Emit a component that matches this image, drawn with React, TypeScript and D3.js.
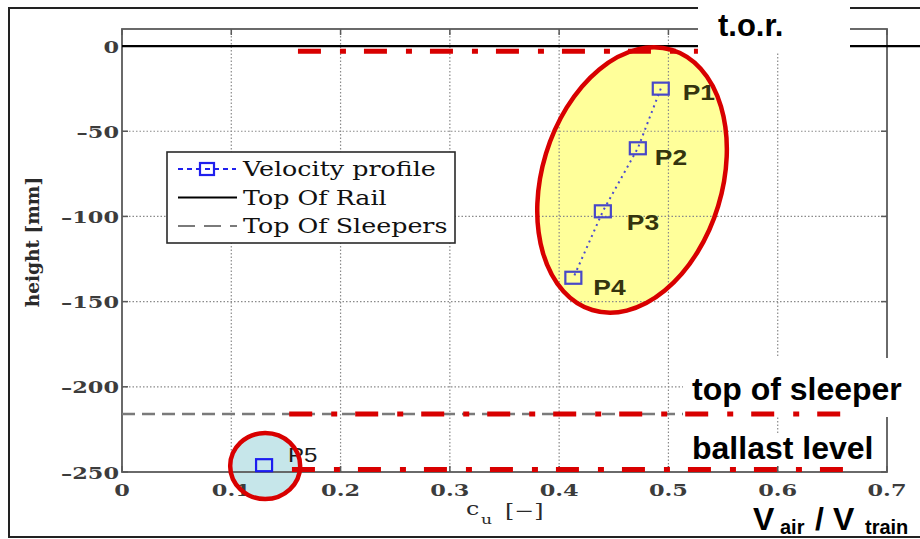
import React, { useEffect, useRef } from 'react';
import * as d3 from 'd3';

// axis ticks
const xTicks = [0, 0.1, 0.2, 0.3, 0.4, 0.5, 0.6, 0.7];
const yTicks = [-250, -200, -150, -100, -50, 0];

// velocity profile measurement points
const pointLabels = ['P1', 'P2', 'P3', 'P4', 'P5'];
const pointCu = [0.493, 0.472, 0.44, 0.413, 0.13];
const pointHeight = [-25, -60, -97, -136, -246];
const labelOffsets = [[22, 11], [17, 17], [24, 19], [20, 17], [24, -3]];

// reference levels (mm)
const topOfRail = 0;
const topOfSleepers = -216;

const legendLabels = ['Velocity profile', 'Top Of Rail', 'Top Of Sleepers'];

// red dash-dot annotation levels
const levelHeights = [-3, -216, -248.5];
const levelStart = [0.161, 0.153, 0.1555];
const levelEnd = [0.527, 0.658, 0.66];

const W = 920;
const H = 539;
const SERIF = '"DejaVu Serif", serif';
const SANS = '"Liberation Sans", Arial, sans-serif';
const RED = '#d80000';

export default function App() {
  const svgRef = useRef<SVGSVGElement>(null);

  useEffect(() => {
    if (!svgRef.current) return;
    const svg = d3.select(svgRef.current);
    svg.selectAll('*').remove();

    const x = d3.scaleLinear().domain([0, 0.7]).range([122, 887]);
    const y = d3.scaleLinear().domain([-250, 10]).range([472, 29]);
    const [x0, x1] = x.range();
    const [y0, y1] = y.range();

    svg.append('rect').attr('width', W).attr('height', H).attr('fill', '#fff');

    // outer frame
    svg.append('rect')
      .attr('x', 9).attr('y', 8)
      .attr('width', W + 10).attr('height', 529)
      .attr('fill', 'none').attr('stroke', '#222').attr('stroke-width', 2);

    // highlight fills (under grid)
    const hiCx = x(0.4667);
    const hiCy = y(-78.6);
    const hiTf = `translate(${hiCx},${hiCy}) rotate(17)`;
    svg.append('ellipse')
      .attr('transform', hiTf)
      .attr('rx', 90).attr('ry', 136)
      .attr('fill', '#ffff88').attr('fill-opacity', 0.85);
    const p5Cx = x(0.131);
    const p5Cy = y(-246.5);
    svg.append('ellipse')
      .attr('cx', p5Cx).attr('cy', p5Cy).attr('rx', 35).attr('ry', 33)
      .attr('fill', '#c6e6ea');

    // grid
    const grid = svg.append('g')
      .attr('stroke', '#8a8a8a').attr('stroke-width', 1.2).attr('stroke-dasharray', '1.5,2');
    xTicks.slice(1, -1).forEach((t) => {
      grid.append('line').attr('x1', x(t)).attr('x2', x(t)).attr('y1', y1).attr('y2', y0);
    });
    yTicks.slice(1).forEach((t) => {
      grid.append('line').attr('x1', x0).attr('x2', x1).attr('y1', y(t)).attr('y2', y(t));
    });

    // axes box + inward ticks
    svg.append('rect')
      .attr('x', x0).attr('y', y1).attr('width', x1 - x0).attr('height', y0 - y1)
      .attr('fill', 'none').attr('stroke', '#5a5a5a').attr('stroke-width', 1.8);
    const ticks = svg.append('g').attr('stroke', '#5a5a5a').attr('stroke-width', 1.5);
    xTicks.forEach((t) => {
      ticks.append('line').attr('x1', x(t)).attr('x2', x(t)).attr('y1', y0).attr('y2', y0 - 6);
      ticks.append('line').attr('x1', x(t)).attr('x2', x(t)).attr('y1', y1).attr('y2', y1 + 6);
    });
    yTicks.forEach((t) => {
      ticks.append('line').attr('x1', x0).attr('x2', x0 + 6).attr('y1', y(t)).attr('y2', y(t));
      ticks.append('line').attr('x1', x1).attr('x2', x1 - 6).attr('y1', y(t)).attr('y2', y(t));
    });

    const serifText = (px: number, py: number, str: string, anchor: string, size: number) =>
      svg.append('text')
        .attr('transform', `translate(${px},${py}) scale(1.32,1)`)
        .attr('text-anchor', anchor)
        .attr('font-family', SERIF)
        .attr('font-size', size)
        .attr('fill', '#3c3c3c')
        .attr('font-weight', 'bold')
        .text(str);

    xTicks.forEach((t) => {
      serifText(x(t), 496, t === 0 ? '0' : d3.format('.1f')(t), 'middle', 17);
    });
    yTicks.forEach((t) => {
      serifText(119, y(t) + 6.5, t < 0 ? '–' + Math.abs(t) : String(t), 'end', 17);
    });

    // axis labels
    svg.append('text')
      .attr('transform', 'translate(39,242) rotate(-90)')
      .attr('text-anchor', 'middle')
      .attr('font-family', SERIF).attr('font-size', 18.5).attr('font-weight', 'bold')
      .attr('fill', '#2a2a2a')
      .text('height [mm]');
    serifText(466, 515, 'c', 'start', 18).attr('font-weight', 'normal').attr('fill', '#2a2a2a');
    serifText(481, 524, 'u', 'start', 13).attr('font-weight', 'normal').attr('fill', '#2a2a2a');
    serifText(505, 517, '[−]', 'start', 18).attr('font-weight', 'normal').attr('fill', '#2a2a2a');

    // reference lines
    svg.append('line')
      .attr('x1', x0).attr('x2', x1).attr('y1', y(topOfSleepers)).attr('y2', y(topOfSleepers))
      .attr('stroke', '#7a7a7a').attr('stroke-width', 2.5).attr('stroke-dasharray', '13,7');
    svg.append('line')
      .attr('x1', x0).attr('x2', W).attr('y1', y(topOfRail)).attr('y2', y(topOfRail))
      .attr('stroke', '#000').attr('stroke-width', 2.2);

    // velocity profile
    const line = d3.line<number>()
      .x((_, i) => x(pointCu[i]))
      .y((_, i) => y(pointHeight[i]));
    svg.append('path')
      .attr('d', line(pointCu.slice(0, 4)))
      .attr('fill', 'none').attr('stroke', '#4a4ad0').attr('stroke-width', 2)
      .attr('stroke-dasharray', '2,4');

    pointCu.forEach((c, i) => {
      const px = x(c);
      const py = y(pointHeight[i]);
      svg.append('rect')
        .attr('x', px - 8).attr('y', py - 6).attr('width', 16).attr('height', 12)
        .attr('fill', 'none')
        .attr('stroke', i === 4 ? '#1c1cf0' : '#4848c8')
        .attr('stroke-width', 2.2);
      const [dx, dy] = labelOffsets[i];
      svg.append('text')
        .attr('transform', `translate(${px + dx},${py + dy}) scale(1.2,1)`)
        .attr('font-family', SANS)
        .attr('font-size', i === 4 ? 20 : 22)
        .attr('font-weight', i === 4 ? 'normal' : 'bold')
        .attr('fill', i === 4 ? '#1a1a1a' : '#34340e')
        .text(pointLabels[i]);
    });

    // highlight outlines
    svg.append('ellipse')
      .attr('transform', hiTf)
      .attr('rx', 90).attr('ry', 136)
      .attr('fill', 'none').attr('stroke', RED).attr('stroke-width', 4.5);
    svg.append('ellipse')
      .attr('cx', p5Cx).attr('cy', p5Cy).attr('rx', 35).attr('ry', 33)
      .attr('fill', 'none').attr('stroke', RED).attr('stroke-width', 4.5);

    // legend
    const lg = svg.append('g').attr('transform', 'translate(167,152)');
    lg.append('rect').attr('width', 288).attr('height', 91)
      .attr('fill', '#fff').attr('stroke', '#2a2a2a').attr('stroke-width', 1.6);
    legendLabels.forEach((lab, i) => {
      const ry = 17 + i * 28.5;
      if (i === 0) {
        lg.append('line').attr('x1', 11).attr('x2', 69).attr('y1', ry).attr('y2', ry)
          .attr('stroke', '#2020ee').attr('stroke-width', 2.2).attr('stroke-dasharray', '5,4');
        lg.append('rect').attr('x', 33).attr('y', ry - 6).attr('width', 14).attr('height', 12)
          .attr('fill', 'none').attr('stroke', '#2020ee').attr('stroke-width', 2.2);
      } else if (i === 1) {
        lg.append('line').attr('x1', 11).attr('x2', 70).attr('y1', ry).attr('y2', ry)
          .attr('stroke', '#000').attr('stroke-width', 2.2);
      } else {
        lg.append('line').attr('x1', 11).attr('x2', 70).attr('y1', ry).attr('y2', ry)
          .attr('stroke', '#7a7a7a').attr('stroke-width', 2).attr('stroke-dasharray', '17,9');
      }
      lg.append('text')
        .attr('transform', `translate(76,${ry + 7}) scale(1.3,1)`)
        .attr('font-family', SERIF).attr('font-size', 19.5).attr('fill', '#111')
        .text(lab);
    });

    // white label boxes
    const box = (bx: number, by: number, bw: number, bh: number) =>
      svg.append('rect').attr('x', bx).attr('y', by).attr('width', bw).attr('height', bh).attr('fill', '#fff');
    box(698, 0, 152, 53);
    box(683, 358, 237, 59);
    box(683, 435, 197, 31);

    // red dash-dot levels
    levelHeights.forEach((h, i) => {
      svg.append('line')
        .attr('x1', x(levelStart[i])).attr('x2', x(levelEnd[i]))
        .attr('y1', y(h)).attr('y2', y(h))
        .attr('stroke', RED).attr('stroke-width', 5)
        .attr('stroke-dasharray', '23,19,6,18');
    });

    const sansText = (px: number, py: number, str: string, size: number) =>
      svg.append('text')
        .attr('x', px).attr('y', py)
        .attr('font-family', SANS).attr('font-size', size).attr('font-weight', 'bold')
        .attr('fill', '#000')
        .text(str);

    sansText(718, 36, 't.o.r.', 31);
    sansText(692, 400, 'top of sleeper', 32);
    sansText(692, 459, 'ballast level', 32);
    sansText(753, 530, 'V', 32);
    sansText(780, 534, 'air', 20);
    sansText(815, 530, '/', 32);
    sansText(833, 530, 'V', 32);
    sansText(865, 534, 'train', 20);
  }, []);

  return (
    <svg
      ref={svgRef}
      width={W}
      height={H}
      style={{ position: 'absolute', left: 0, top: 0, display: 'block' }}
    />
  );
}
